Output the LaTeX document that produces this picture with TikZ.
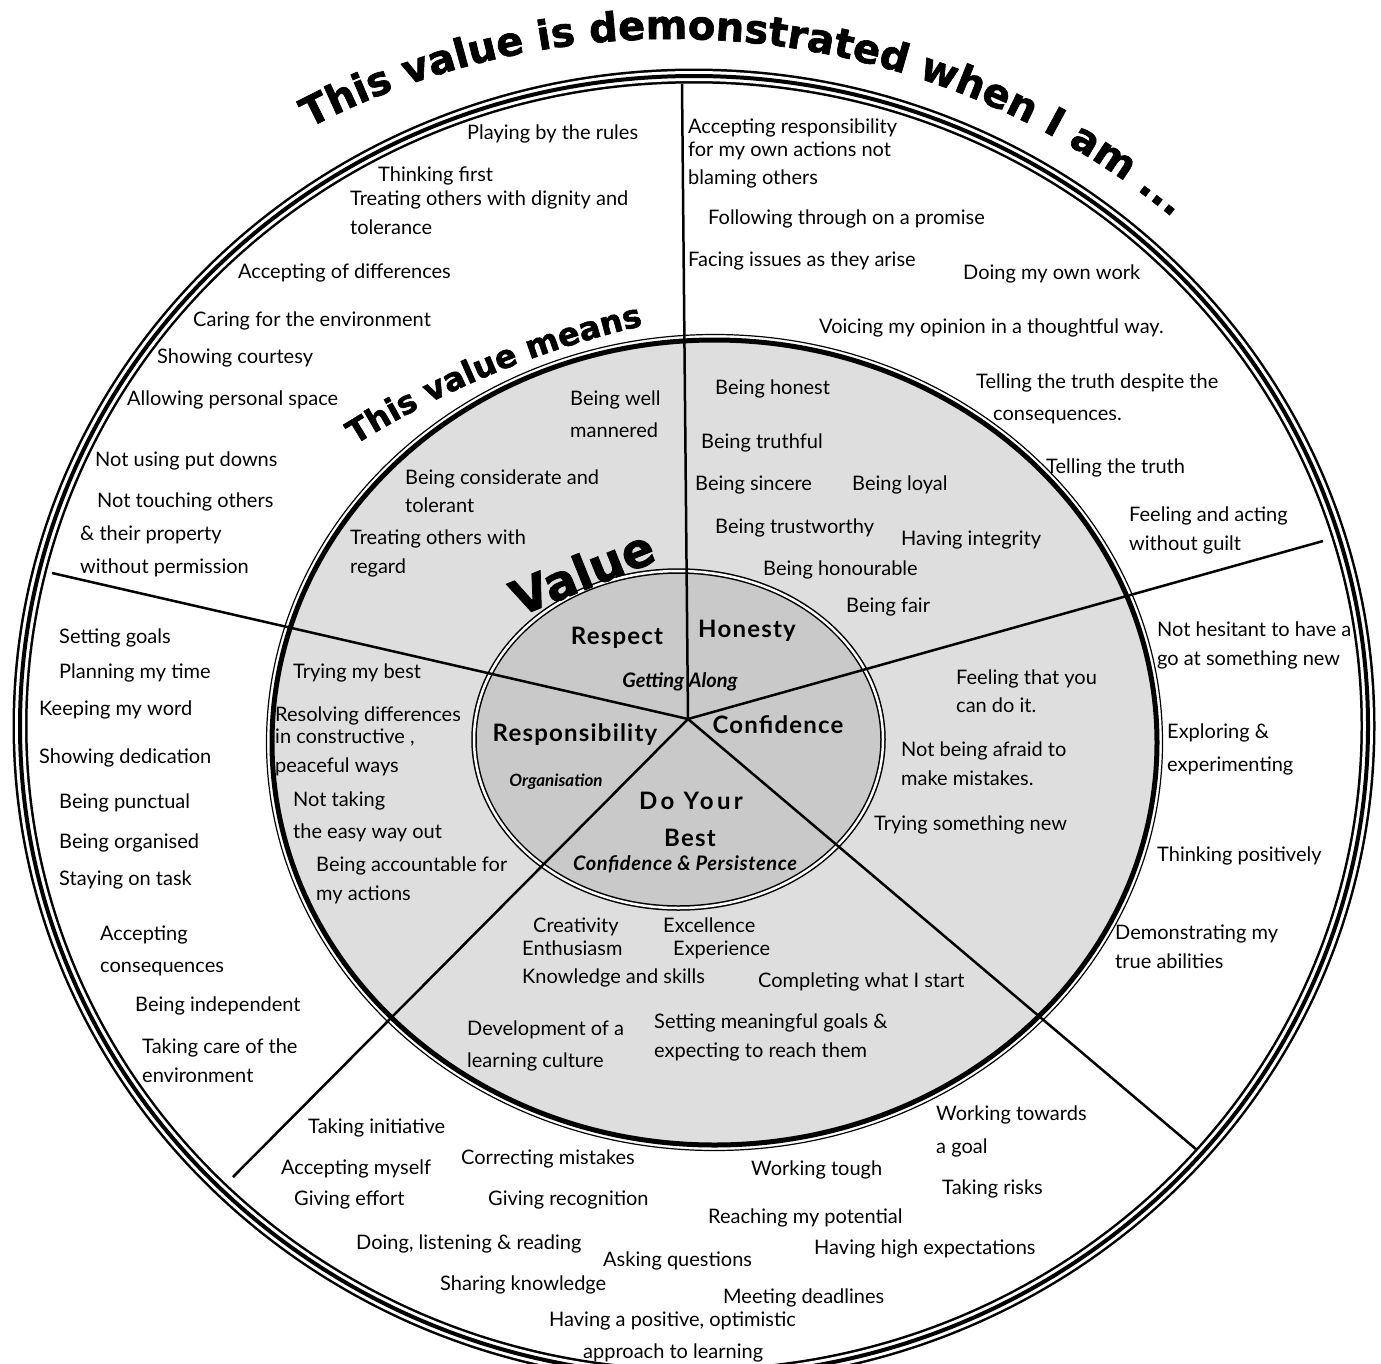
\documentclass[tikz,border=0pt]{standalone}
\usepackage{fontspec}
\setmainfont{Lato}
\newfontfamily\heavyfont{DejaVu Sans}[BoldFeatures={FakeBold=1.6}]
\usetikzlibrary{decorations.text}
\definecolor{ringgray}{gray}{0.87}
\definecolor{coregray}{gray}{0.79}
\begin{document}
\begin{tikzpicture}[x=1pt,y=-1pt,
  lbl/.style={anchor=base west, inner sep=0pt, yshift=-6pt, font=\fontsize{20}{20}\selectfont},
  hd/.style={inner sep=0pt, font=\fontsize{24}{24}\selectfont\bfseries\addfontfeature{LetterSpace=5}},
  sub/.style={inner sep=0pt, font=\fontsize{20}{20}\selectfont\bfseries\itshape},
  spoke/.style={line width=2.5pt, black}]
\useasboundingbox (0,0) rectangle (1381,1363);
\fill[white] (0,0) rectangle (1381,1363);
% fills
\fill[ringgray] (714.5,742.5) ellipse [x radius=442.5pt, y radius=402.5pt];
\fill[coregray] (678.5,739.5) ellipse [x radius=204.5pt, y radius=168.5pt];
% outer triple ring
\draw[line width=15pt] (694,726) ellipse [x radius=674pt, y radius=650pt];
\draw[white, line width=10pt] (694,726) ellipse [x radius=674pt, y radius=650pt];
\draw[line width=4pt] (694,726) ellipse [x radius=674pt, y radius=650pt];
% middle ring
\draw[line width=5pt] (714.5,742.5) ellipse [x radius=442.5pt, y radius=402.5pt];
\draw[line width=1.2pt] (714.5,742.5) ellipse [x radius=448pt, y radius=408pt];
% inner double ring
\draw[line width=5.5pt] (678.5,739.5) ellipse [x radius=204.5pt, y radius=168.5pt];
\draw[white, line width=2.5pt] (678.5,739.5) ellipse [x radius=204.5pt, y radius=168.5pt];
% spokes
\coordinate (c) at (688,719);
\coordinate (eN) at (682,84);
\coordinate (eNW) at (52,573);
\coordinate (eNE) at (1323,541);
\coordinate (eSE) at (1197,1150);
\coordinate (eSW) at (233,1177);
\draw[spoke] (c) -- (eN);
\draw[spoke] (c) -- (eNW);
\draw[spoke] (c) -- (eNE);
\draw[spoke] (c) -- (eSE);
\draw[spoke] (c) -- (eSW);
% arc titles
\begin{scope}[y=1pt]
\path[decorate, decoration={text along path, text align=left,
  text={|\heavyfont\bfseries\fontsize{40}{40}\selectfont|This value is demonstrated when I am ...}}]
  ([shift={(673,-827)}]117.5:788) arc[start angle=117.5, end angle=40, radius=788];
\path[decorate, decoration={text along path, text align=left,
  text={|\heavyfont\bfseries\fontsize{32}{32}\selectfont|This value means}}]
  ([shift={(855.8,-1246.4)}]122:945) arc[start angle=122, end angle=95, radius=945];
\end{scope}
\node[inner sep=0pt, rotate=22, font=\heavyfont\bfseries\fontsize{48}{48}\selectfont] (val) at (582,572) {Value};
% core labels
\node[hd] (h1) at (617,638) {Respect};
\node[hd] (h2) at (747,631) {Honesty};
\node[sub] (s1) at (680,682) {Getting Along};
\node[hd] (h3) at (575,735) {Responsibility};
\node[hd] (h4) at (778,725) {Confidence};
\node[sub, font=\fontsize{17}{17}\selectfont\bfseries\itshape] (s2) at (556,782) {Organisation};
\node[hd, font=\fontsize{24}{24}\selectfont\bfseries\addfontfeature{LetterSpace=14}] (h5) at (691,801) {Do Your};
\node[hd] (h6) at (690,838) {Best};
\node[sub, font=\fontsize{20}{20}\selectfont\bfseries\itshape\addfontfeature{LetterSpace=3}] (s3) at (685,864) {Confidence \& Persistence};
% middle ring texts
\node[lbl] (m1) at (570,399) {Being well};
\node[lbl] (m2) at (570,431) {mannered};
\node[lbl] (m3) at (405,478) {Being considerate and};
\node[lbl] (m4) at (405,506) {tolerant};
\node[lbl] (m5) at (350,538) {Treating others with};
\node[lbl] (m6) at (350,567) {regard};
\node[lbl] (m7) at (715,388) {Being honest};
\node[lbl] (m8) at (701,442) {Being truthful};
\node[lbl] (m9) at (695,484) {Being sincere};
\node[lbl] (m10) at (852,484) {Being loyal};
\node[lbl] (m11) at (715,527) {Being trustworthy};
\node[lbl] (m12) at (901,539) {Having integrity};
\node[lbl] (m13) at (763,569) {Being honourable};
\node[lbl] (m14) at (846,606) {Being fair};
\node[lbl] (m15) at (293,672) {Trying my best};
\node[lbl] (m16) at (275,715) {Resolving differences};
\node[lbl] (m17) at (275,737) {in constructive ,};
\node[lbl] (m18) at (275,766) {peaceful ways};
\node[lbl] (m19) at (293,800) {Not taking};
\node[lbl] (m20) at (293,832) {the easy way out};
\node[lbl] (m21) at (316,865) {Being accountable for};
\node[lbl] (m22) at (316,894) {my actions};
\node[lbl] (m23) at (956,678) {Feeling that you};
\node[lbl] (m24) at (956,706) {can do it.};
\node[lbl] (m25) at (901,750) {Not being afraid to};
\node[lbl] (m26) at (901,779) {make mistakes.};
\node[lbl] (m27) at (874,824) {Trying something new};
\node[lbl] (m28) at (533,926) {Creativity};
\node[lbl] (m29) at (663,926) {Excellence};
\node[lbl] (m30) at (522,949) {Enthusiasm};
\node[lbl] (m31) at (673,949) {Experience};
\node[lbl] (m32) at (522,977) {Knowledge and skills};
\node[lbl] (m33) at (758,981) {Completing what I start};
\node[lbl] (m34) at (467,1029) {Development of a};
\node[lbl] (m35) at (467,1061) {learning culture};
\node[lbl] (m36) at (654,1022) {Setting meaningful goals \&};
\node[lbl] (m37) at (654,1051) {expecting to reach them};
% outer ring texts
\node[lbl] (o1) at (467,133) {Playing by the rules};
\node[lbl] (o2) at (378,175) {Thinking first};
\node[lbl] (o3) at (350,199) {Treating others with dignity and};
\node[lbl] (o4) at (350,228) {tolerance};
\node[lbl] (o5) at (238,272) {Accepting of differences};
\node[lbl] (o6) at (193,320) {Caring for the environment};
\node[lbl] (o7) at (157,357) {Showing courtesy};
\node[lbl] (o8) at (127,399) {Allowing personal space};
\node[lbl] (o9) at (95,460) {Not using put downs};
\node[lbl] (o10) at (97,501) {Not touching others};
\node[lbl] (o11) at (80,534) {\& their property};
\node[lbl] (o12) at (80,567) {without permission};
\node[lbl] (o13) at (688,127) {Accepting responsibility};
\node[lbl] (o14) at (688,150) {for my own actions not};
\node[lbl] (o15) at (688,178) {blaming others};
\node[lbl] (o16) at (708,218) {Following through on a promise};
\node[lbl] (o17) at (688,260) {Facing issues as they arise};
\node[lbl] (o18) at (963,273) {Doing my own work};
\node[lbl] (o19) at (819,327) {Voicing my opinion in a thoughtful way.};
\node[lbl] (o20) at (976,382) {Telling the truth despite the};
\node[lbl] (o21) at (993,414) {consequences.};
\node[lbl] (o22) at (1046,467) {Telling the truth};
\node[lbl] (o23) at (1129,515) {Feeling and acting};
\node[lbl] (o24) at (1129,544) {without guilt};
\node[lbl] (o25) at (1157,630) {Not hesitant to have a};
\node[lbl] (o26) at (1157,659) {go at something new};
\node[lbl] (o27) at (1167,732) {Exploring \&};
\node[lbl] (o28) at (1167,765) {experimenting};
\node[lbl] (o29) at (1157,855) {Thinking positively};
\node[lbl] (o30) at (1115,933) {Demonstrating my};
\node[lbl] (o31) at (1115,962) {true abilities};
\node[lbl] (o32) at (59,637) {Setting goals};
\node[lbl] (o33) at (59,672) {Planning my time};
\node[lbl] (o34) at (39,709) {Keeping my word};
\node[lbl] (o35) at (39,757) {Showing dedication};
\node[lbl] (o36) at (59,802) {Being punctual};
\node[lbl] (o37) at (59,842) {Being organised};
\node[lbl] (o38) at (59,879) {Staying on task};
\node[lbl] (o39) at (100,934) {Accepting};
\node[lbl] (o40) at (100,966) {consequences};
\node[lbl] (o41) at (135,1005) {Being independent};
\node[lbl] (o42) at (142,1047) {Taking care of the};
\node[lbl] (o43) at (142,1076) {environment};
\node[lbl] (o44) at (308,1127) {Taking initiative};
\node[lbl] (o45) at (281,1168) {Accepting myself};
\node[lbl] (o46) at (461,1158) {Correcting mistakes};
\node[lbl] (o47) at (294,1199) {Giving effort};
\node[lbl] (o48) at (488,1199) {Giving recognition};
\node[lbl] (o49) at (751,1169) {Working tough};
\node[lbl] (o50) at (936,1114) {Working towards};
\node[lbl] (o51) at (936,1147) {a goal};
\node[lbl] (o52) at (942,1188) {Taking risks};
\node[lbl] (o53) at (708,1217) {Reaching my potential};
\node[lbl] (o54) at (356,1243) {Doing, listening \& reading};
\node[lbl] (o55) at (603,1260) {Asking questions};
\node[lbl] (o56) at (814,1248) {Having high expectations};
\node[lbl] (o57) at (440,1284) {Sharing knowledge};
\node[lbl] (o58) at (723,1297) {Meeting deadlines};
\node[lbl] (o59) at (549,1320) {Having a positive, optimistic};
\node[lbl] (o60) at (583,1352) {approach to learning};
\end{tikzpicture}
\end{document}
